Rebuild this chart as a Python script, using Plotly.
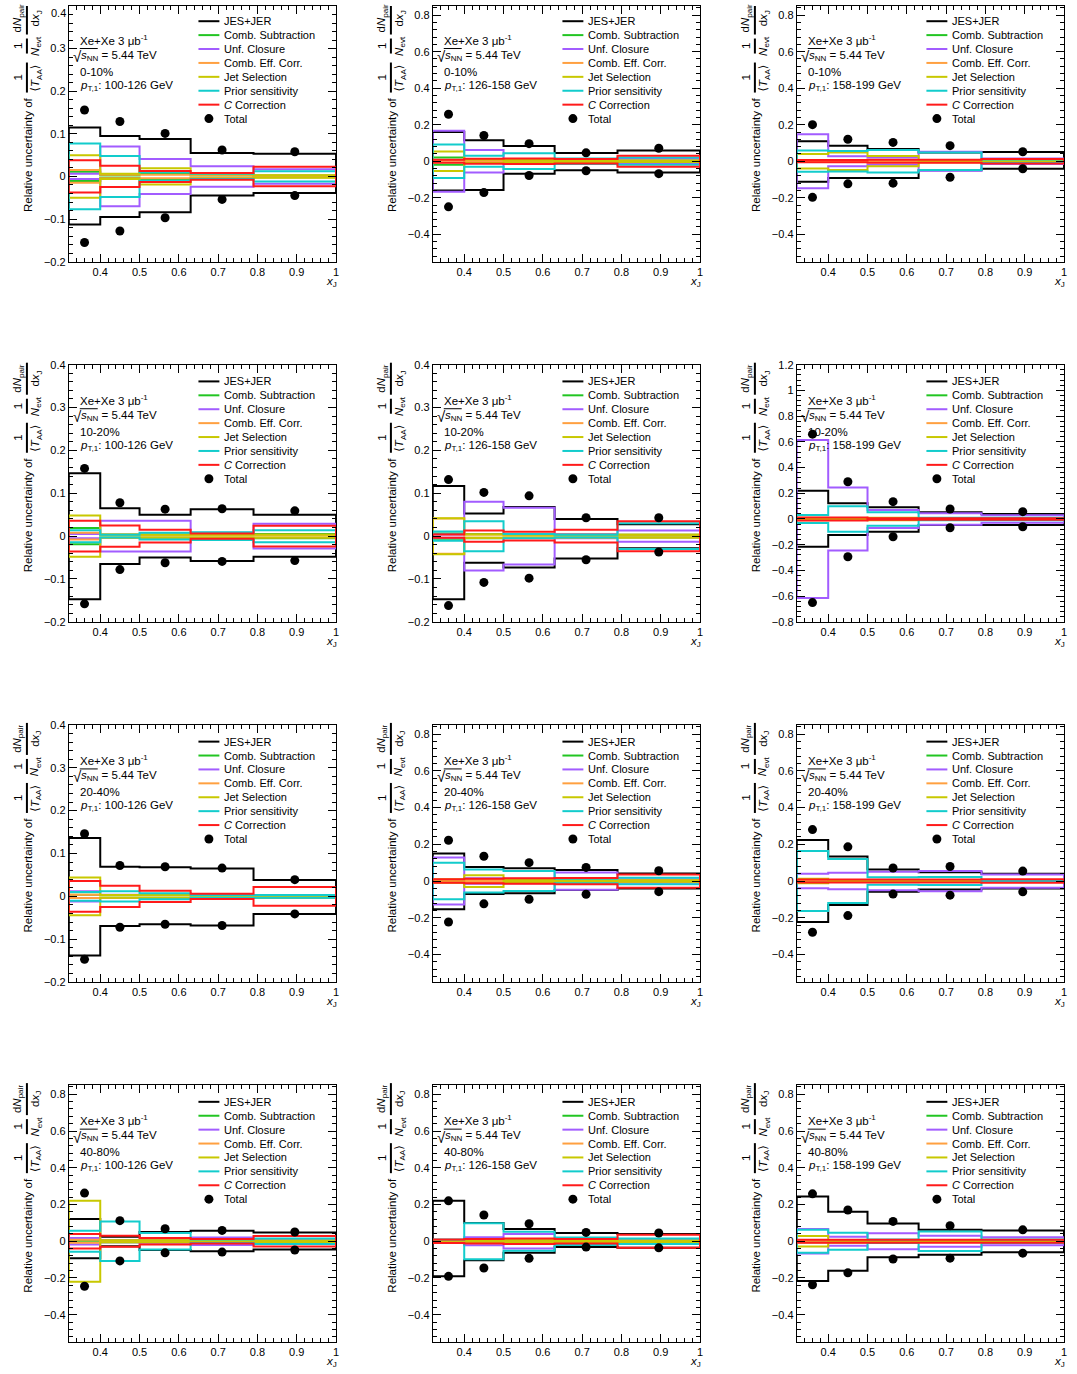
import plotly.graph_objects as go

# ---------------------------------------------------------------- data
XJ_EDGES = [0.32, 0.40, 0.50, 0.63, 0.79, 1.00]
CENTRALITY = ["0-10%", "10-20%", "20-40%", "40-80%"]
PT_BINS = ["100-126", "126-158", "158-199"]

# one row per panel (centrality-major, pT-minor), one value per xJ bin
JES_UP = [
    [0.115, 0.095, 0.088, 0.055, 0.053],
    [0.160, 0.115, 0.083, 0.045, 0.058],
    [0.110, 0.085, 0.067, 0.048, 0.050],
    [0.147, 0.065, 0.050, 0.063, 0.050],
    [0.117, 0.053, 0.068, 0.040, 0.028],
    [0.219, 0.122, 0.091, 0.052, 0.039],
    [0.136, 0.069, 0.068, 0.065, 0.038],
    [0.150, 0.077, 0.070, 0.060, 0.041],
    [0.223, 0.134, 0.063, 0.048, 0.039],
    [0.121, 0.025, 0.050, 0.057, 0.048],
    [0.220, 0.100, 0.066, 0.045, 0.039],
    [0.244, 0.161, 0.097, 0.062, 0.058],
]
JES_DOWN = [
    [-0.113, -0.095, -0.084, -0.045, -0.039],
    [-0.160, -0.157, -0.068, -0.050, -0.062],
    [-0.112, -0.092, -0.092, -0.050, -0.041],
    [-0.147, -0.065, -0.050, -0.058, -0.048],
    [-0.147, -0.062, -0.073, -0.052, -0.028],
    [-0.216, -0.125, -0.099, -0.047, -0.047],
    [-0.138, -0.069, -0.065, -0.068, -0.041],
    [-0.153, -0.070, -0.067, -0.049, -0.040],
    [-0.223, -0.130, -0.059, -0.046, -0.041],
    [-0.093, -0.027, -0.048, -0.054, -0.045],
    [-0.191, -0.104, -0.063, -0.032, -0.036],
    [-0.216, -0.160, -0.087, -0.074, -0.060],
]
COMB_SUB = [
    [0.011, 0.003, 0.008, 0.003, 0.002],
    [0.020, 0.005, 0.005, 0.004, 0.004],
    [0.004, 0.004, 0.004, 0.003, 0.003],
    [0.019, 0.004, 0.004, 0.004, 0.005],
    [0.006, 0.005, 0.004, 0.003, 0.003],
    [0.005, 0.005, 0.004, 0.003, 0.003],
    [0.004, 0.003, 0.003, 0.003, 0.003],
    [0.006, 0.005, 0.005, 0.004, 0.004],
    [0.005, 0.005, 0.004, 0.004, 0.004],
    [0.005, 0.005, 0.005, 0.005, 0.005],
    [0.005, 0.005, 0.005, 0.005, 0.005],
    [0.005, 0.005, 0.005, 0.004, 0.004],
]
UNF_CLOSURE = [
    [0.006, 0.070, 0.041, 0.024, 0.017],
    [0.167, 0.062, 0.010, 0.010, 0.015],
    [0.148, 0.027, 0.020, 0.052, 0.015],
    [0.005, 0.036, 0.036, 0.008, 0.029],
    [0.004, 0.080, 0.066, 0.005, 0.013],
    [0.615, 0.245, 0.070, 0.044, 0.030],
    [0.012, 0.004, 0.004, 0.004, 0.002],
    [0.128, 0.015, 0.012, 0.047, 0.010],
    [0.039, 0.045, 0.050, 0.055, 0.036],
    [0.018, 0.005, 0.008, 0.020, 0.010],
    [0.005, 0.022, 0.040, 0.015, 0.012],
    [0.067, 0.025, 0.044, 0.030, 0.022],
]
COMB_EFF = [
    [0.015, 0.004, 0.004, 0.003, 0.002],
    [0.006, 0.004, 0.004, 0.003, 0.003],
    [0.004, 0.004, 0.004, 0.003, 0.003],
    [0.008, 0.004, 0.003, 0.003, 0.003],
    [0.041, 0.004, 0.003, 0.003, 0.003],
    [0.010, 0.005, 0.004, 0.003, 0.003],
    [0.004, 0.003, 0.003, 0.003, 0.002],
    [0.005, 0.005, 0.004, 0.004, 0.004],
    [0.006, 0.004, 0.004, 0.003, 0.003],
    [0.008, 0.004, 0.004, 0.004, 0.004],
    [0.005, 0.005, 0.004, 0.004, 0.004],
    [0.005, 0.005, 0.005, 0.004, 0.004],
]
JET_SEL = [
    [0.050, 0.006, 0.019, 0.005, 0.003],
    [0.053, 0.010, 0.006, 0.004, 0.004],
    [0.040, 0.048, 0.028, 0.005, 0.003],
    [0.048, 0.003, 0.003, 0.003, 0.003],
    [0.042, 0.004, 0.003, 0.003, 0.003],
    [0.006, 0.005, 0.010, 0.005, 0.003],
    [0.044, 0.003, 0.003, 0.002, 0.002],
    [0.010, 0.032, 0.005, 0.004, 0.004],
    [0.012, 0.004, 0.004, 0.003, 0.003],
    [0.220, 0.005, 0.005, 0.004, 0.004],
    [0.006, 0.006, 0.005, 0.004, 0.004],
    [0.028, 0.005, 0.005, 0.004, 0.004],
]
PRIOR = [
    [0.077, 0.048, 0.010, 0.006, 0.012],
    [0.092, 0.030, 0.043, 0.015, 0.020],
    [0.058, 0.056, 0.062, 0.048, 0.010],
    [0.014, 0.003, 0.008, 0.009, 0.014],
    [0.011, 0.035, 0.005, 0.003, 0.030],
    [0.031, 0.100, 0.052, 0.010, 0.010],
    [0.010, 0.012, 0.007, 0.003, 0.003],
    [0.099, 0.063, 0.054, 0.012, 0.018],
    [0.163, 0.120, 0.020, 0.022, 0.005],
    [0.057, 0.107, 0.045, 0.010, 0.015],
    [0.010, 0.098, 0.052, 0.020, 0.015],
    [0.062, 0.046, 0.010, 0.053, 0.010],
]
C_CORR = [
    [0.038, 0.025, 0.013, 0.008, 0.023],
    [0.008, 0.014, 0.015, 0.012, 0.030],
    [0.006, 0.006, 0.008, 0.008, 0.012],
    [0.036, 0.025, 0.015, 0.006, 0.024],
    [0.004, 0.013, 0.010, 0.015, 0.035],
    [0.012, 0.012, 0.005, 0.005, 0.005],
    [0.036, 0.025, 0.013, 0.006, 0.022],
    [0.010, 0.012, 0.015, 0.017, 0.036],
    [0.008, 0.008, 0.008, 0.008, 0.010],
    [0.040, 0.030, 0.018, 0.012, 0.028],
    [0.010, 0.012, 0.015, 0.012, 0.035],
    [0.008, 0.008, 0.008, 0.008, 0.008],
]
TOTAL_UP = [
    [0.156, 0.129, 0.101, 0.062, 0.058],
    [0.257, 0.141, 0.096, 0.046, 0.071],
    [0.200, 0.120, 0.103, 0.085, 0.052],
    [0.158, 0.078, 0.063, 0.064, 0.059],
    [0.132, 0.102, 0.094, 0.043, 0.043],
    [0.660, 0.290, 0.135, 0.078, 0.057],
    [0.146, 0.072, 0.069, 0.066, 0.039],
    [0.222, 0.135, 0.100, 0.074, 0.056],
    [0.280, 0.186, 0.071, 0.079, 0.054],
    [0.262, 0.112, 0.068, 0.059, 0.050],
    [0.220, 0.143, 0.095, 0.048, 0.045],
    [0.258, 0.170, 0.108, 0.085, 0.062],
]
TOTAL_DOWN = [
    [-0.155, -0.128, -0.097, -0.054, -0.045],
    [-0.250, -0.172, -0.078, -0.052, -0.068],
    [-0.198, -0.124, -0.120, -0.088, -0.041],
    [-0.158, -0.078, -0.062, -0.059, -0.057],
    [-0.162, -0.108, -0.098, -0.055, -0.037],
    [-0.650, -0.294, -0.138, -0.068, -0.060],
    [-0.147, -0.072, -0.065, -0.068, -0.041],
    [-0.223, -0.124, -0.099, -0.072, -0.058],
    [-0.279, -0.188, -0.071, -0.077, -0.059],
    [-0.245, -0.107, -0.063, -0.059, -0.048],
    [-0.191, -0.146, -0.093, -0.032, -0.036],
    [-0.237, -0.172, -0.097, -0.092, -0.065],
]
# y-axis range of each panel
Y_RANGES = [
    [-0.2, 0.4], [-0.55, 0.85], [-0.55, 0.85],
    [-0.2, 0.4], [-0.2, 0.4], [-0.8, 1.2],
    [-0.2, 0.4], [-0.55, 0.85], [-0.55, 0.85],
    [-0.55, 0.85], [-0.55, 0.85], [-0.55, 0.85],
]

# ---------------------------------------------------------------- style
FONT = "Liberation Sans, Arial, DejaVu Sans, sans-serif"
W, H = 1077, 1374
AX_LEFT = [69, 434, 799]
AX_TOP = [5, 365, 725, 1085]
AX_W, AX_H = 268, 257
# vertical pixel -> paper mapping of the panel grid
Y_OFFSET, Y_SCALE = 6.5, 0.9907

# (legend label, colour, values) in drawing order; Total is drawn last
SYSTEMATICS = [
    ("Comb. Subtraction", "#22c522", COMB_SUB),
    ("Unf. Closure", "#a25cff", UNF_CLOSURE),
    ("Comb. Eff. Corr.", "#ffa040", COMB_EFF),
    ("Jet Selection", "#c8c800", JET_SEL),
    ("Prior sensitivity", "#12cccc", PRIOR),
    ("<i>C</i> Correction", "#ff1a1a", C_CORR),
]
LEGEND = [("JES+JER", "#000000")] + [(n, c) for n, c, _ in SYSTEMATICS]


def px(x):
    return x / W


def py(y):
    return 1 - (y - Y_OFFSET) / Y_SCALE / H


def clamp(v):
    return min(1.0, max(0.0, v))


def fmt(v):
    s = f"{v:.2f}".rstrip("0").rstrip(".")
    if s in ("-0", "0", ""):
        return "0"
    return s.replace("-", "\u2212")


def step_xy(vals):
    xs = [XJ_EDGES[0]] + XJ_EDGES[:-1] + [XJ_EDGES[-1], XJ_EDGES[-1]]
    ys = [0] + list(vals) + [vals[-1], 0]
    return xs, ys


fig = go.Figure()
annotations = []
shapes = []
centers = [(a + b) / 2 for a, b in zip(XJ_EDGES[:-1], XJ_EDGES[1:])]


def note(text, x, y, size=11, xanchor="left", yanchor="middle", angle=0,
         yfrac=None):
    annotations.append(dict(text=text, x=px(x),
                            y=py(y) if yfrac is None else yfrac,
                            xref="paper", yref="paper", showarrow=False,
                            xanchor=xanchor, yanchor=yanchor,
                            textangle=angle, borderpad=0,
                            font=dict(family=FONT, size=size, color="black")))


for k in range(12):
    r, c = divmod(k, 3)
    sfx = "" if k == 0 else str(k + 1)
    xa, ya = "x" + sfx, "y" + sfx
    L, T = AX_LEFT[c], AX_TOP[r]
    R, B = L + AX_W, T + AX_H

    # JES+JER (asymmetric), then the symmetric components
    for vals in (JES_UP[k], JES_DOWN[k]):
        xs, ys = step_xy(vals)
        fig.add_trace(go.Scatter(x=xs, y=ys, mode="lines", line_shape="hv",
                                 line=dict(color="#000000", width=2),
                                 xaxis=xa, yaxis=ya, showlegend=False,
                                 hoverinfo="skip"))
    for name, color, arr in SYSTEMATICS:
        for sign in (1, -1):
            xs, ys = step_xy([sign * v for v in arr[k]])
            fig.add_trace(go.Scatter(x=xs, y=ys, mode="lines", line_shape="hv",
                                     line=dict(color=color, width=2),
                                     xaxis=xa, yaxis=ya, showlegend=False,
                                     hoverinfo="skip"))
    fig.add_trace(go.Scatter(x=centers + centers, y=TOTAL_UP[k] + TOTAL_DOWN[k],
                             mode="markers",
                             marker=dict(color="black", size=9),
                             xaxis=xa, yaxis=ya, showlegend=False,
                             cliponaxis=False))

    # axes
    y0, y1 = Y_RANGES[k]
    if y1 - y0 < 1.0:
        major, minor = 0.1, 0.02
    else:
        major, minor = 0.2, 0.04
    first = round(-int(round(-y0 / major - 1e-9)) * major, 3)
    yt = []
    v = first
    while v <= y1 + 1e-9:
        if v >= y0 - 1e-9:
            yt.append(round(v, 3))
        v = round(v + major, 3)
    ytext = [fmt(t) for t in yt]
    # a label sitting on the page's top edge is written just below it
    for i, t in enumerate(yt):
        ypix = T + (y1 - t) / (y1 - y0) * AX_H
        if ypix < Y_OFFSET:
            note(ytext[i], L - 2, 0, size=11, xanchor="right",
                 yanchor="top", yfrac=1.0)
            ytext[i] = ""
    xt = [0.4, 0.5, 0.6, 0.7, 0.8, 0.9, 1.0]
    common = dict(showline=True, mirror="allticks", linecolor="black",
                  linewidth=1, ticks="inside", ticklen=8, tickwidth=1,
                  tickcolor="black", showgrid=False, zeroline=False,
                  tickfont=dict(family=FONT, size=11, color="black"))
    fig.update_layout({
        "xaxis" + sfx: dict(common, domain=[px(L), px(R)], range=[0.32, 1.0],
                            anchor=ya, tickvals=xt,
                            ticktext=[fmt(t) for t in xt],
                            minor=dict(ticks="inside", ticklen=4, tick0=0.32,
                                       dtick=0.02, tickcolor="black")),
        "yaxis" + sfx: dict(common, domain=[clamp(py(B)), clamp(py(T))],
                            range=[y0, y1], anchor=xa, tickvals=yt,
                            ticktext=ytext,
                            minor=dict(ticks="inside", ticklen=4, tick0=0,
                                       dtick=minor, tickcolor="black")),
    })

    # y-axis title: Relative uncertainty of 1/<T_AA> 1/N_evt dN_pair/dx_J
    note("Relative uncertainty of", L - 41, T + 208, size=11.5,
         xanchor="center", yanchor="bottom", angle=-90)
    fracs = [
        ("1", "\u27e8<i>T</i><sub>AA</sub>\u27e9", T + 58, T + 88),
        ("1", "<i>N</i><sub>evt</sub>", T + 34, T + 49),
        ("d<i>N</i><sub>pair</sub>", "d<i>x</i><sub>J</sub>", T - 2, T + 30),
    ]
    for num, den, ytop, ybot in fracs:
        ym = (ytop + ybot) / 2
        note(num, L - 51, ym, size=11.5, xanchor="center", angle=-90)
        note(den, L - 33, ym, size=11.5, xanchor="center", angle=-90)
        shapes.append(dict(type="line", xref="paper", yref="paper",
                           x0=px(L - 42), x1=px(L - 42), y0=clamp(py(ytop)),
                           y1=py(ybot), line=dict(color="black", width=2)))

    # x-axis title
    note("<i>x</i><sub>J</sub>", R + 2, B + 20, size=11.5, xanchor="right")

    # info text
    note("Xe+Xe 3 \u03bcb<sup>-1</sup>", L + 10, T + 35, size=11.5)
    note("\u221a", L + 3, T + 52, size=15)
    note("<i>s</i><sub>NN</sub> = 5.44 TeV", L + 11, T + 51, size=11.5)
    shapes.append(dict(type="line", xref="paper", yref="paper",
                       x0=px(L + 11), x1=px(L + 29), y0=py(T + 44),
                       y1=py(T + 44), line=dict(color="black", width=1)))
    note(CENTRALITY[r], L + 10, T + 67, size=11.5)
    note("<i>p</i><sub>T,1</sub>: " + PT_BINS[c] + " GeV", L + 10, T + 81,
         size=11.5)

    # legend
    for i, (label, color) in enumerate(LEGEND):
        yy = T + 16.7 + 13.9 * i
        shapes.append(dict(type="line", xref="paper", yref="paper",
                           x0=px(L + 130), x1=px(L + 151), y0=py(yy),
                           y1=py(yy), line=dict(color=color, width=2)))
        note(label, L + 155, yy, size=11)
    yy = T + 16.7 + 13.9 * len(LEGEND)
    shapes.append(dict(type="circle", xref="paper", yref="paper",
                       x0=px(L + 136), x1=px(L + 145), y0=py(yy + 4.5),
                       y1=py(yy - 4.5), fillcolor="black",
                       line=dict(color="black", width=0)))
    note("Total", L + 155, yy, size=11)

fig.update_layout(width=W, height=H, autosize=False,
                  margin=dict(l=0, r=0, t=0, b=0),
                  paper_bgcolor="white", plot_bgcolor="white",
                  showlegend=False, annotations=annotations, shapes=shapes,
                  font=dict(family=FONT, size=11, color="black"))

fig.write_html("out.html")
